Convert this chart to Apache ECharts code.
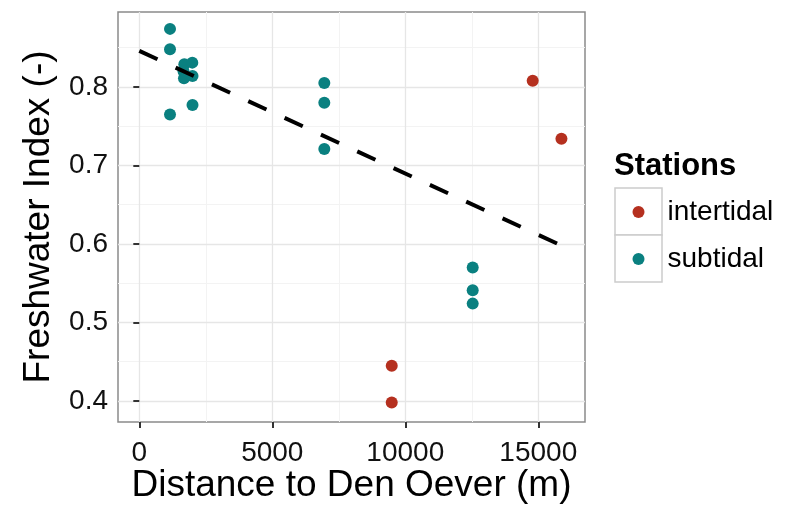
<!DOCTYPE html>
<html>
<head>
<meta charset="utf-8">
<script src="https://cdn.jsdelivr.net/npm/echarts@6/dist/echarts.min.js"></script>
<style>
  html, body { margin: 0; padding: 0; background: #fff; }
  #chart { width: 794px; height: 505px; }
</style>
</head>
<body>
<div id="chart"></div>
<script>
// Station distances (m) and freshwater index values
const intertidalX = [14790, 15870, 9490, 9490];
const intertidalY = [0.808, 0.734, 0.445, 0.398];

const subtidalX = [1154, 1154, 1154, 1692, 1992, 1662, 1680, 2000, 2000, 6955, 6955, 6955, 12534, 12534, 12534];
const subtidalY = [0.874, 0.848, 0.765, 0.829, 0.831, 0.820, 0.811, 0.814, 0.777, 0.805, 0.780, 0.721, 0.570, 0.541, 0.524];

// Linear trend (dashed)
const trendX = [0, 15870];
const trendY = [0.846, 0.598];

// Tick and grid values
const xTicks = [0, 5000, 10000, 15000];
const xMinor = [2500, 7500, 12500];
const yTicks = [0.4, 0.5, 0.6, 0.7, 0.8];
const yMinor = [0.45, 0.55, 0.65, 0.75, 0.85];

const FONT = 'Liberation Sans, Arial, sans-serif';
const RED = '#B5301F';
const TEAL = '#0A8080';

const zip = (xs, ys) => xs.map((x, i) => [x, ys[i]]);

const minorStyle = { color: '#f3f3f3', width: 1, type: 'solid' };
const majorStyle = { color: '#e6e6e6', width: 1.3, type: 'solid' };
const gridLines = [].concat(
  xMinor.map(v => ({ xAxis: v, lineStyle: minorStyle })),
  yMinor.map(v => ({ yAxis: v, lineStyle: minorStyle })),
  xTicks.map(v => ({ xAxis: v, lineStyle: majorStyle })),
  yTicks.map(v => ({ yAxis: v, lineStyle: majorStyle }))
);

const chart = echarts.init(document.getElementById('chart'), null, { renderer: 'canvas' });

chart.setOption({
  animation: false,
  backgroundColor: '#fff',
  textStyle: { fontFamily: FONT },
  title: {
    text: 'Stations',
    left: 614,
    top: 151,
    padding: 0,
    textStyle: { fontFamily: FONT, fontSize: 31, fontWeight: 'bold', color: '#000' }
  },
  legend: {
    orient: 'vertical',
    left: 632.5,
    top: 197,
    padding: 0,
    itemGap: 17,
    itemWidth: 12,
    itemHeight: 12,
    icon: 'circle',
    data: ['intertidal', 'subtidal'],
    textStyle: { fontFamily: FONT, fontSize: 28, color: '#000', lineHeight: 30, padding: [0, 0, 0, 18] }
  },
  graphic: [
    { type: 'rect', z: -1, shape: { x: 615, y: 188, width: 47, height: 47 }, style: { fill: '#fff', stroke: '#cccccc', lineWidth: 1.5 } },
    { type: 'rect', z: -1, shape: { x: 615, y: 235, width: 47, height: 47 }, style: { fill: '#fff', stroke: '#cccccc', lineWidth: 1.5 } }
  ],
  grid: {
    left: 118, top: 12, width: 467, height: 410,
    containLabel: false,
    outerBoundsMode: 'none',
    show: true, borderColor: '#8a8a8a', borderWidth: 1.5, backgroundColor: '#fff'
  },
  xAxis: {
    type: 'value',
    min: -801, max: 16756,
    name: 'Distance to Den Oever (m)',
    nameLocation: 'middle',
    nameGap: 45,
    nameMoveOverlap: false,
    nameTextStyle: { fontFamily: FONT, fontSize: 37, color: '#000' },
    axisLine: { show: false },
    axisTick: { show: true, customValues: xTicks, length: 6, lineStyle: { color: '#333', width: 2 } },
    axisLabel: { customValues: xTicks, margin: 17, fontFamily: FONT, fontSize: 28, color: '#111',
                 formatter: v => String(v) },
    splitLine: { show: false }
  },
  yAxis: {
    type: 'value',
    min: 0.3732, max: 0.8955,
    name: 'Freshwater Index (-)',
    nameLocation: 'middle',
    nameGap: 61,
    nameMoveOverlap: false,
    nameTextStyle: { fontFamily: FONT, fontSize: 37, color: '#000' },
    axisLine: { show: false },
    axisTick: { show: true, customValues: yTicks, length: 6, lineStyle: { color: '#333', width: 2 } },
    axisLabel: { customValues: yTicks, margin: 10, fontFamily: FONT, fontSize: 28, color: '#111',
                 formatter: v => v.toFixed(1) },
    splitLine: { show: false }
  },
  series: [
    {
      name: 'grid', type: 'scatter', data: [], silent: true, z: 0,
      markLine: { silent: true, z: 0, symbol: 'none', label: { show: false }, animation: false, data: gridLines }
    },
    {
      name: 'intertidal', type: 'scatter', z: 3,
      symbolSize: 12, itemStyle: { color: RED, opacity: 1 },
      data: zip(intertidalX, intertidalY)
    },
    {
      name: 'subtidal', type: 'scatter', z: 3,
      symbolSize: 12, itemStyle: { color: TEAL, opacity: 1 },
      data: zip(subtidalX, subtidalY)
    },
    {
      name: 'trend', type: 'line', z: 5, symbol: 'none', silent: true,
      lineStyle: { color: '#000', width: 4, type: [20, 20], cap: 'butt' },
      data: zip(trendX, trendY)
    }
  ]
});
</script>
</body>
</html>
